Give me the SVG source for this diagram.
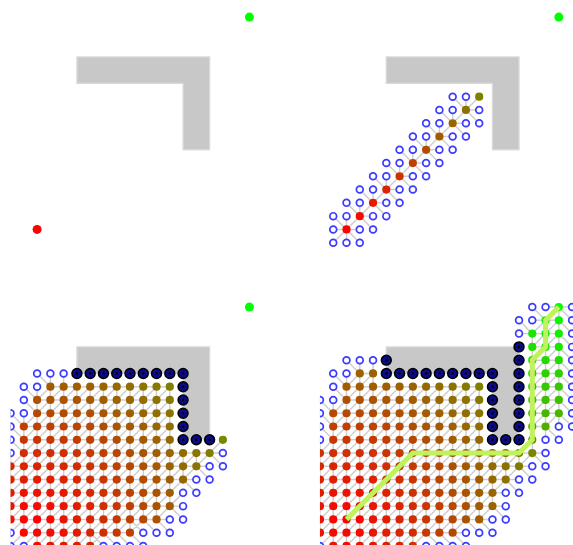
<svg xmlns="http://www.w3.org/2000/svg" xmlns:xlink="http://www.w3.org/1999/xlink" width="573" height="545" viewBox="0 0 573 545">
<style>
.wall{fill:#c8c8c8;stroke:#dadada;stroke-width:.1}
.ln{fill:none;stroke:#cfcfcf;stroke-width:.11}
.dot{fill:none;stroke-linecap:round;stroke-dasharray:0 1}
.cs{stroke:url(#gs);stroke-width:.62}
.cg{stroke:url(#gg);stroke-width:.62}
.ro{stroke:#3c3cff;stroke-width:.64}
.ri{stroke:#fff;stroke-width:.38}
.dk1{stroke:#000;stroke-width:.86}
.dk2{stroke:#0a0a86;stroke-width:.64}
.dk3{stroke:#000;stroke-width:.18}
.path{fill:none;stroke:#bff25c;stroke-width:.38}
</style>
<defs>
<radialGradient id="gs" gradientUnits="userSpaceOnUse" cx="0" cy="0" r="28.28"><stop offset="0" stop-color="#f00"/><stop offset="1" stop-color="#0f0"/></radialGradient>
<radialGradient id="gg" gradientUnits="userSpaceOnUse" cx="16" cy="-16" r="28.28"><stop offset="0" stop-color="#0f0"/><stop offset="1" stop-color="#f00"/></radialGradient>
<clipPath id="clip"><rect x="-2" y="-16.6" width="20" height="19.5"/></clipPath>
<polygon id="wallShape" points="3,-13 13,-13 13,-6 11,-6 11,-11 3,-11"/>
<path id="d3" d="M3 -11H11.5M11 -10V-5.5M12 -6H13.5"/>
<path id="d4" d="M3 -12h.5M3 -11H11.5M11 -10V-5.5M12 -6h.5M13 -13V-5.5"/>
<path id="r2" d="M-1 1H1.5M-1 0h.5M1 0H2.5M-1 -1H0.5M2 -1H3.5M0 -2H1.5M3 -2H4.5M1 -3H2.5M4 -3H5.5M2 -4H3.5M5 -4H6.5M3 -5H4.5M6 -5H7.5M4 -6H5.5M7 -6H8.5M5 -7H6.5M8 -7H9.5M6 -8H7.5M9 -8H10.5M7 -9H8.5M10 -9h.5M8 -10H9.5"/>
<path id="r3" d="M0 -11H2.5M-1 -10H0.5M-1 -9h.5M-2 -8H-0.5M-2 -7h.5M-2 -6h.5M-2 -5h.5M14 -5h.5M13 -4H14.5M12 -3H13.5M11 -2H12.5M11 -1h.5M10 0H11.5M-2 1h.5M8 1H10.5M-2 2H-0.5M5 2H8.5"/>
<path id="r4" d="M14 -16H15.5M17 -16V-6.5M13 -15H14.5M13 -14h.5M0 -12H2.5M-1 -11H0.5M-1 -10h.5M-2 -9H-0.5M-2 -8h.5M-2 -7h.5M16 -7h.5M-2 -6h.5M15 -6H16.5M15 -5h.5M14 -4H15.5M13 -3H14.5M12 -2H13.5M12 -1h.5M11 0H12.5M9 1H11.5M-2 2h.5M6 2H9.5"/>
</defs>

<g id="panel1" transform="translate(37.1,229.4) scale(13.27)">
<g id="p1-wall"><use href="#wallShape" class="wall"/></g>
<g id="p1-start"><circle cx="0" cy="0" r=".34" fill="#f00"/></g>
<g id="p1-goal"><circle cx="16" cy="-16" r=".34" fill="#0f0"/></g>
</g>

<g id="panel2" transform="translate(346.5,229.4) scale(13.27)" clip-path="url(#clip)">
<g id="p2-wall"><use href="#wallShape" class="wall"/></g>
<g id="p2-connectors"><path class="ln" d="M0 0L10 -10M-1 1L0 0M0 1L0 0M1 1L0 0M-1 0L0 0M1 0L0 0M2 0L1 -1M-1 -1L0 0M0 -1L0 0M2 -1L1 -1M3 -1L2 -2M0 -2L1 -1M1 -2L1 -1M3 -2L2 -2M4 -2L3 -3M1 -3L2 -2M2 -3L2 -2M4 -3L3 -3M5 -3L4 -4M2 -4L3 -3M3 -4L3 -3M5 -4L4 -4M6 -4L5 -5M3 -5L4 -4M4 -5L4 -4M6 -5L5 -5M7 -5L6 -6M4 -6L5 -5M5 -6L5 -5M7 -6L6 -6M8 -6L7 -7M5 -7L6 -6M6 -7L6 -6M8 -7L7 -7M9 -7L8 -8M6 -8L7 -7M7 -8L7 -7M9 -8L8 -8M10 -8L9 -9M7 -9L8 -8M8 -9L8 -8M10 -9L9 -9M8 -10L9 -9M9 -10L9 -9"/></g>
<g id="p2-closed"><path class="dot cs" d="M0 0h.5M1 -1h.5M2 -2h.5M3 -3h.5M4 -4h.5M5 -5h.5M6 -6h.5M7 -7h.5M8 -8h.5M9 -9h.5M10 -10h.5"/></g>
<g id="p2-open"><use href="#r2" class="dot ro"/><use href="#r2" class="dot ri"/></g>
<g id="p2-goal"><circle cx="16" cy="-16" r=".34" fill="#0f0"/></g>
</g>

<g id="panel3" transform="translate(37.1,519.4) scale(13.27)" clip-path="url(#clip)">
<g id="p3-wall"><use href="#wallShape" class="wall"/></g>
<g id="p3-connectors"><path class="ln" d="M1 -10H10M0 -9H10M0 -8H10M-1 -7H10M-1 -6H10M-1 -5H13M-2 -4H12M-2 -3H11M-2 -2H10M-2 -1H10M-2 0H9M-1 1H7M0 2H4M-2 0V-4M-1 1V-7M0 2V-9M1 2V-10M2 2V-10M3 2V-10M4 2V-10M5 1V-10M6 1V-10M7 1V-10M8 0V-10M9 0V-10M10 -1V-10M11 -3V-5M12 -4V-5M0 -9L1 -10M-1 -7L2 -10M-1 -6L3 -10M-2 -4L4 -10M-2 -3L5 -10M-2 -2L6 -10M-2 -1L7 -10M-2 0L8 -10M-1 0L9 -10M-1 1L10 -10M0 1L10 -9M0 2L10 -8M1 2L10 -7M2 2L10 -6M3 2L10 -5M4 2L11 -5M6 1L12 -5M7 1L14 -6M9 0L10 -1M0 -11L1 -10M1 -11L1 -10M2 -11L2 -10M-1 -10L0 -9M0 -10L0 -9M-1 -9L0 -8M-2 -8L-1 -7M-1 -8L-1 -7M-2 -7L-1 -6M-2 -6L-1 -5M-2 -5L-2 -4M14 -5L13 -5M13 -4L12 -4M14 -4L13 -5M12 -3L11 -3M13 -3L12 -4M11 -2L10 -1M12 -2L11 -3M11 -1L10 -1M10 0L9 0M11 0L10 -1M-2 1L-1 0M8 1L7 0M9 1L8 0M10 1L9 0M-2 2L-1 1M-1 2L0 1M5 2L4 1M6 2L5 1M7 2L6 1M8 2L7 1"/></g>
<g id="p3-closed"><path class="dot cs" d="M1 -10H10.5M0 -9H10.5M0 -8H10.5M-1 -7H10.5M-1 -6H10.5M14 -6h.5M-1 -5H13.5M-2 -4H12.5M-2 -3H11.5M-2 -2H10.5M-2 -1H10.5M-2 0H9.5M-1 1H7.5M0 2H4.5"/></g>
<g id="p3-open"><use href="#r3" class="dot ro"/><use href="#r3" class="dot ri"/></g>
<g id="p3-blocked"><use href="#d3" class="dot dk1"/><use href="#d3" class="dot dk2"/><use href="#d3" class="dot dk3"/></g>
<g id="p3-goal"><circle cx="16" cy="-16" r=".34" fill="#0f0"/></g>
</g>

<g id="panel4" transform="translate(346.5,519.4) scale(13.27)" clip-path="url(#clip)">
<g id="p4-wall"><use href="#wallShape" class="wall"/></g>
<g id="p4-connectors"><path class="ln" d="M1 -11H2M0 -10H10M0 -9H10M-1 -8H10M-1 -7H10M-1 -6H10M-2 -5H14M-2 -4H13M-2 -3H12M-2 -2H11M-2 -1H11M-2 0H10M-2 1H8M-1 2H5M-2 1V-5M-1 2V-8M0 2V-10M1 2V-11M2 2V-11M3 2V-10M4 2V-10M5 2V-10M6 1V-10M7 1V-10M8 1V-10M9 0V-10M10 0V-10M11 -1V-5M12 -3V-5M13 -4V-5M14 -5V-6M0 -10L1 -11M-1 -8L2 -11M-1 -7L2 -10M-2 -5L3 -10M-2 -4L4 -10M-2 -3L5 -10M-2 -2L6 -10M-2 -1L7 -10M-2 0L8 -10M-2 1L9 -10M-1 1L10 -10M-1 2L10 -9M0 2L10 -8M1 2L10 -7M2 2L10 -6M3 2L10 -5M4 2L11 -5M5 2L12 -5M7 1L14 -6M8 1L14 -5M10 0L11 -1M15 -15H16M14 -14H16M14 -13H16M14 -12H16M14 -11H16M14 -10H16M14 -9H16M14 -8H16M14 -7H15M14 -7V-14M15 -7V-15M16 -8V-16M14 -14L16 -16M14 -13L16 -15M14 -12L16 -14M14 -11L16 -13M14 -10L16 -12M14 -9L16 -11M14 -8L16 -10M14 -7L16 -9M15 -7L16 -8M14 -16L15 -15M15 -16L16 -16M17 -16L16 -16M13 -15L14 -14M14 -15L15 -15M17 -15L16 -16M13 -14L14 -14M17 -14L16 -15M17 -13L16 -14M17 -12L16 -13M17 -11L16 -12M17 -10L16 -11M17 -9L16 -10M17 -8L16 -9M16 -7L16 -8M17 -7L16 -8M15 -6L15 -7M16 -6L15 -7M0 -12L1 -11M1 -12L1 -11M2 -12L2 -11M-1 -11L0 -10M0 -11L0 -10M-1 -10L0 -9M-2 -9L-1 -8M-1 -9L-1 -8M-2 -8L-1 -7M-2 -7L-1 -6M-2 -6L-2 -5M15 -5L14 -5M14 -4L13 -4M15 -4L14 -5M13 -3L12 -3M14 -3L13 -4M12 -2L11 -2M13 -2L12 -3M12 -1L11 -1M11 0L10 0M12 0L11 -1M9 1L8 1M10 1L9 0M11 1L10 0M-2 2L-1 1M6 2L5 2M7 2L6 1M8 2L7 1M9 2L8 1"/></g>
<g id="p4-closed-start"><path class="dot cs" d="M1 -11H2.5M0 -10H10.5M0 -9H10.5M-1 -8H10.5M-1 -7H10.5M-1 -6H10.5M14 -6h.5M-2 -5H14.5M-2 -4H13.5M-2 -3H12.5M-2 -2H11.5M-2 -1H11.5M-2 0H10.5M-2 1H8.5M-1 2H5.5"/></g>
<g id="p4-closed-goal"><path class="dot cg" d="M16 -16h.5M15 -15H16.5M14 -14H16.5M14 -13H16.5M14 -12H16.5M14 -11H16.5M14 -10H16.5M14 -9H16.5M14 -8H16.5M14 -7H15.5"/></g>
<g id="p4-open"><use href="#r4" class="dot ro"/><use href="#r4" class="dot ri"/></g>
<g id="p4-blocked"><use href="#d4" class="dot dk1"/><use href="#d4" class="dot dk2"/><use href="#d4" class="dot dk3"/></g>
<g id="p4-path"><path class="path" d="M0 0L5 -5H13L14 -6V-12L15 -13V-15L16 -16"/></g>
</g>
</svg>
